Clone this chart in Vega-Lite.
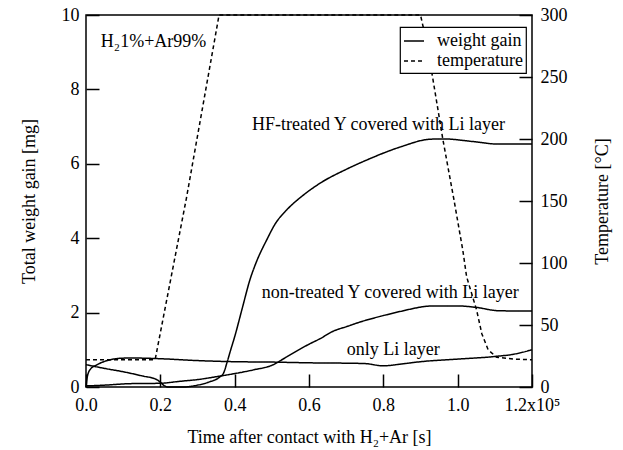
{
  "$schema": "https://vega.github.io/schema/vega-lite/v6.json",
  "autosize": "none",
  "width": 446,
  "height": 372,
  "padding": {"left": 86, "top": 15, "right": 91, "bottom": 63},
  "background": "white",
  "config": {
    "view": {"stroke": "black", "strokeWidth": 1.5},
    "font": "Times New Roman, Liberation Serif, serif",
    "axis": {
      "domain": false, "grid": false,
      "ticks": true, "tickColor": "black", "tickWidth": 1.5, "tickSize": -13,
      "labelFont": "Times New Roman, Liberation Serif, serif", "labelFontSize": 18, "labelColor": "black",
      "labelFlush": false, "labelOverlap": false,
      "titleFont": "Times New Roman, Liberation Serif, serif", "titleFontSize": 18, "titleFontWeight": "normal", "titleColor": "black"
    },
    "legend": {
      "orient": "none", "legendX": 314, "legendY": 12,
      "strokeColor": "black", "strokeWidth": 1.2, "fillColor": "white",
      "padding": 3, "rowPadding": 0,
      "symbolType": "stroke", "symbolSize": 400, "symbolStrokeWidth": 1.5, "symbolStrokeColor": "black",
      "labelFont": "Times New Roman, Liberation Serif, serif", "labelFontSize": 18, "labelColor": "black", "labelOffset": 12,
      "title": null
    }
  },
  "datasets": {
    "weight": [
      {"series": "HF", "t": 0, "mg": 0.6}, {"series": "HF", "t": 5000, "mg": 0.5}, {"series": "HF", "t": 10000, "mg": 0.41},
      {"series": "HF", "t": 15000, "mg": 0.3}, {"series": "HF", "t": 19000, "mg": 0.2}, {"series": "HF", "t": 20000, "mg": 0.13},
      {"series": "HF", "t": 21000, "mg": 0.04}, {"series": "HF", "t": 22000, "mg": 0.0}, {"series": "HF", "t": 26000, "mg": 0.0},
      {"series": "HF", "t": 30000, "mg": 0.05}, {"series": "HF", "t": 33000, "mg": 0.13}, {"series": "HF", "t": 36000, "mg": 0.27},
      {"series": "HF", "t": 37000, "mg": 0.37}, {"series": "HF", "t": 38000, "mg": 0.68}, {"series": "HF", "t": 39000, "mg": 1.02},
      {"series": "HF", "t": 40000, "mg": 1.35}, {"series": "HF", "t": 42000, "mg": 2.1}, {"series": "HF", "t": 44100, "mg": 2.88},
      {"series": "HF", "t": 46000, "mg": 3.4}, {"series": "HF", "t": 48600, "mg": 3.95}, {"series": "HF", "t": 51000, "mg": 4.4},
      {"series": "HF", "t": 54000, "mg": 4.76}, {"series": "HF", "t": 58500, "mg": 5.16}, {"series": "HF", "t": 63000, "mg": 5.48},
      {"series": "HF", "t": 70000, "mg": 5.85}, {"series": "HF", "t": 75500, "mg": 6.1}, {"series": "HF", "t": 84500, "mg": 6.45},
      {"series": "HF", "t": 92500, "mg": 6.66}, {"series": "HF", "t": 96000, "mg": 6.67}, {"series": "HF", "t": 104000, "mg": 6.6},
      {"series": "HF", "t": 111000, "mg": 6.53}, {"series": "HF", "t": 120000, "mg": 6.53},

      {"series": "Li", "t": 0, "mg": 0.0}, {"series": "Li", "t": 400, "mg": 0.3}, {"series": "Li", "t": 1200, "mg": 0.48},
      {"series": "Li", "t": 3000, "mg": 0.6}, {"series": "Li", "t": 6000, "mg": 0.72}, {"series": "Li", "t": 9000, "mg": 0.77},
      {"series": "Li", "t": 12000, "mg": 0.78}, {"series": "Li", "t": 20000, "mg": 0.76}, {"series": "Li", "t": 30000, "mg": 0.71},
      {"series": "Li", "t": 40000, "mg": 0.68}, {"series": "Li", "t": 50000, "mg": 0.67}, {"series": "Li", "t": 60000, "mg": 0.65},
      {"series": "Li", "t": 70000, "mg": 0.64}, {"series": "Li", "t": 75000, "mg": 0.63}, {"series": "Li", "t": 80000, "mg": 0.57},
      {"series": "Li", "t": 85000, "mg": 0.62}, {"series": "Li", "t": 90000, "mg": 0.68}, {"series": "Li", "t": 100000, "mg": 0.75},
      {"series": "Li", "t": 110000, "mg": 0.82}, {"series": "Li", "t": 115000, "mg": 0.88}, {"series": "Li", "t": 120000, "mg": 1.0},

      {"series": "non", "t": 0, "mg": 0.03}, {"series": "non", "t": 5000, "mg": 0.05}, {"series": "non", "t": 11800, "mg": 0.09},
      {"series": "non", "t": 20000, "mg": 0.1}, {"series": "non", "t": 25000, "mg": 0.15}, {"series": "non", "t": 30000, "mg": 0.2},
      {"series": "non", "t": 36500, "mg": 0.3}, {"series": "non", "t": 40000, "mg": 0.36}, {"series": "non", "t": 45000, "mg": 0.46},
      {"series": "non", "t": 50400, "mg": 0.6}, {"series": "non", "t": 53000, "mg": 0.75}, {"series": "non", "t": 57600, "mg": 1.02},
      {"series": "non", "t": 60000, "mg": 1.15}, {"series": "non", "t": 63000, "mg": 1.3}, {"series": "non", "t": 66500, "mg": 1.5},
      {"series": "non", "t": 70000, "mg": 1.62}, {"series": "non", "t": 74500, "mg": 1.77}, {"series": "non", "t": 80000, "mg": 1.92},
      {"series": "non", "t": 84500, "mg": 2.03}, {"series": "non", "t": 93500, "mg": 2.18}, {"series": "non", "t": 100000, "mg": 2.18},
      {"series": "non", "t": 105000, "mg": 2.14}, {"series": "non", "t": 111000, "mg": 2.05}, {"series": "non", "t": 120000, "mg": 2.04}
    ],
    "temp": [
      {"t": 0, "temp": 22}, {"t": 18600, "temp": 22}, {"t": 27000, "temp": 152}, {"t": 35800, "temp": 300},
      {"t": 90000, "temp": 300}, {"t": 91500, "temp": 280}, {"t": 93300, "temp": 249}, {"t": 96000, "temp": 200},
      {"t": 99000, "temp": 151}, {"t": 101400, "temp": 110}, {"t": 102400, "temp": 89}, {"t": 105100, "temp": 62},
      {"t": 106500, "temp": 43}, {"t": 108200, "temp": 30}, {"t": 110500, "temp": 24}, {"t": 115000, "temp": 22.5},
      {"t": 120000, "temp": 22}
    ],
    "notes": [
      {"t": 4000, "mg": 9.27, "label": "H₂1%+Ar99%"},
      {"t": 44660, "mg": 7.04, "label": "HF-treated Y covered with Li layer"},
      {"t": 47270, "mg": 2.53, "label": "non-treated Y covered with Li layer"},
      {"t": 70140, "mg": 0.99, "label": "only Li layer"}
    ]
  },
  "layer": [
    {
      "data": {"name": "weight"},
      "mark": {"type": "line", "color": "black", "strokeWidth": 1.5, "interpolate": "monotone"},
      "encoding": {
        "x": {"field": "t", "type": "quantitative",
              "scale": {"domain": [0, 120000], "nice": false, "zero": false},
              "axis": {"values": [0, 20000, 40000, 60000, 80000, 100000, 120000],
                       "labelExpr": "datum.value == 120000 ? '1.2x10⁵' : format(datum.value / 100000, '.1f')",
                       "labelPadding": 22, "titlePadding": 14},
              "title": "Time after contact with H₂+Ar [s]"},
        "y": {"field": "mg", "type": "quantitative",
              "scale": {"domain": [0, 10], "nice": false},
              "axis": {"orient": "left", "values": [0, 2, 4, 6, 8, 10], "labelPadding": 20, "titlePadding": 23},
              "title": "Total weight gain [mg]"},
        "detail": {"field": "series"},
        "strokeDash": {"datum": "weight gain", "type": "nominal",
                       "scale": {"domain": ["weight gain", "temperature"], "range": [[1, 0], [4, 3]]}}
      }
    },
    {
      "data": {"name": "temp"},
      "mark": {"type": "line", "color": "black", "strokeWidth": 1.5},
      "encoding": {
        "x": {"field": "t", "type": "quantitative", "scale": {"domain": [0, 120000], "nice": false, "zero": false}},
        "y": {"field": "temp", "type": "quantitative",
              "scale": {"domain": [0, 300], "nice": false},
              "axis": {"orient": "right", "values": [0, 50, 100, 150, 200, 250, 300],
                       "labelPadding": 21, "titlePadding": 26, "titleAngle": -90, "titleBaseline": "top"},
              "title": "Temperature [°C]"},
        "strokeDash": {"datum": "temperature", "type": "nominal"}
      }
    },
    {
      "data": {"name": "notes"},
      "mark": {"type": "text", "align": "left", "baseline": "middle", "font": "Times New Roman, Liberation Serif, serif", "fontSize": 18, "color": "black"},
      "encoding": {
        "x": {"field": "t", "type": "quantitative", "scale": {"domain": [0, 120000], "nice": false, "zero": false}},
        "y": {"field": "mg", "type": "quantitative", "scale": {"domain": [0, 10], "nice": false}, "axis": null},
        "text": {"field": "label"}
      }
    }
  ],
  "resolve": {"scale": {"y": "independent"}}
}
